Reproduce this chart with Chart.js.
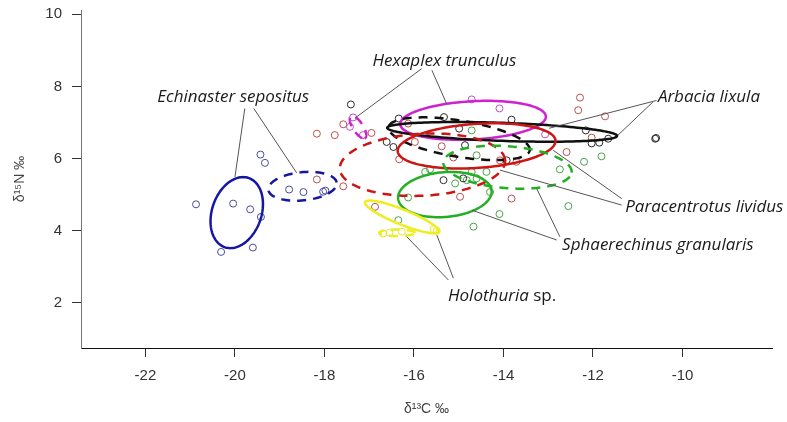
<!DOCTYPE html>
<html><head><meta charset="utf-8">
<script src="https://cdn.jsdelivr.net/npm/chart.js@4/dist/chart.umd.min.js"></script>
<style>html,body{margin:0;padding:0;background:#fff;} canvas{display:block}</style>
</head><body>
<canvas id="c" width="787" height="422" style="width:787px;height:422px"></canvas>
<script>
// ---------- DATA ----------
const species = ['Echinaster sepositus','Hexaplex trunculus','Arbacia lixula','Paracentrotus lividus','Sphaerechinus granularis','Holothuria sp.'];
const xTicks = [-22,-20,-18,-16,-14,-12,-10];
const yTicks = [2,4,6,8,10];

const echinasterC = [-20.87,-20.04,-19.66,-19.42,-20.31,-19.60,-19.43,-19.33,-18.79,-18.47,-18.03,-17.98];
const echinasterN = [4.73,4.75,4.59,4.38,3.41,3.53,6.11,5.88,5.14,5.07,5.08,5.11];

const hexaplexC = [-17.36,-17.43,-17.14,-14.71,-14.09,-13.07];
const hexaplexN = [7.14,6.88,6.65,7.64,7.39,6.67];

const arbaciaC = [-17.41,-16.34,-15.33,-14.99,-16.61,-16.46,-15.34,-14.90,-13.82,-14.86,-13.93,-12.16,-12.03,-11.86,-11.66,-10.61,-10.59];
const arbaciaN = [7.50,7.11,7.15,6.83,6.46,6.32,5.40,5.45,7.08,6.37,5.95,6.78,6.42,6.44,6.55,6.55,6.57];

const paracentrotusC = [-18.17,-17.77,-17.58,-16.95,-15.98,-16.33,-15.38,-15.12,-17.58,-14.97,-16.13,-16.87,-12.29,-12.33,-11.73,-12.59,-12.03,-13.82,-13.71,-18.17,-14.08];
const paracentrotusN = [6.69,6.65,6.95,6.71,6.46,5.98,6.34,6.03,5.23,4.94,6.97,4.66,7.69,7.34,7.17,6.18,6.58,4.89,5.91,5.42,5.95];

const sphaerechinusC = [-14.71,-14.60,-12.74,-12.20,-11.81,-12.55,-14.09,-14.67,-14.30,-15.75,-15.64,-16.13,-16.35,-15.08,-14.71,-14.60,-14.38,-14.82];
const sphaerechinusN = [6.78,6.09,5.70,5.91,6.06,4.68,4.46,4.11,5.07,5.63,5.70,4.92,4.29,5.31,5.63,5.45,5.63,5.40];

const holothuriaC = [-16.69,-16.55,-16.27,-15.49,-15.56];
const holothuriaN = [3.92,3.94,3.97,4.00,4.04];

// standard ellipses (species index, group 1 = solid / 2 = dashed, centre, semi-axes, angle in degrees)
const ellipseSpecies = [0,0,1,1,2,2,3,3,4,4,5,5];
const ellipseGroup   = [1,2,1,2,1,2,1,2,1,2,1,2];
const ellipseCX      = [-19.96,-18.49,-14.68,-17.25,-14.03,-14.99,-14.60,-15.81,-15.31,-13.91,-16.27,-16.38];
const ellipseCY      = [4.50,5.23,7.06,6.87,6.74,6.55,6.35,5.83,5.00,5.76,4.38,3.94];
const ellipseA       = [0.56,0.77,1.63,0.343,2.57,1.61,1.77,1.85,1.05,1.44,0.92,0.40];
const ellipseB       = [1.00,0.39,0.53,0.12,0.25,0.50,0.61,0.86,0.62,0.58,0.20,0.09];
const ellipseAngle   = [-12,8,4,-64,-2.5,-12,5,4,7,-6,-27,0];

// ---------- STYLE / LAYOUT ----------
const pointColors   = ['#4a4a9c','#c050c0','#2a2a2a','#b85050','#4aa04a','#e6e62a'];
const ellipseColors = ['#1616a0','#d020d0','#101010','#cc1515','#22b022','#eeee1e'];

const annotations = [
  {parts:[['Echinaster sepositus',true]], at:[-20.04,7.70], align:'center',
   leaders:[[[-19.78,7.39],[-20.00,5.49]],[[-19.58,7.39],[-18.62,5.60]]]},
  {parts:[['Hexaplex trunculus',true]], at:[-15.32,8.70], align:'center',
   leaders:[[[-15.83,8.49],[-17.32,7.12]],[[-15.60,8.45],[-15.27,7.52]]]},
  {parts:[['Arbacia lixula',true]], at:[-10.55,7.70], align:'left',
   leaders:[[[-10.58,7.61],[-12.98,6.84]],[[-10.66,7.57],[-11.44,6.65]]]},
  {parts:[['Paracentrotus lividus',true]], at:[-11.28,4.65], align:'left',
   leaders:[[[-11.36,4.89],[-12.89,6.23]],[[-11.36,4.71],[-14.08,5.68]]]},
  {parts:[['Sphaerechinus granularis',true]], at:[-12.69,3.60], align:'left',
   leaders:[[[-12.81,3.74],[-14.71,4.57]],[[-12.74,3.83],[-13.26,5.17]]]},
  {parts:[['Holothuria',true],[' sp.',false]], at:[-15.24,2.19], align:'left',
   leaders:[[[-15.23,2.63],[-16.16,3.83]],[[-15.12,2.68],[-15.49,3.88]]]}
];

const seriesC = [echinasterC,hexaplexC,arbaciaC,paracentrotusC,sphaerechinusC,holothuriaC];
const seriesN = [echinasterN,hexaplexN,arbaciaN,paracentrotusN,sphaerechinusN,holothuriaN];

const datasets = species.map((s,i)=>({
  label:s,
  data: seriesC[i].map((c,k)=>({x:c,y:seriesN[i][k]})),
  pointStyle:'circle', pointRadius:3.5, pointBorderWidth:1,
  borderColor:pointColors[i], backgroundColor:'rgba(0,0,0,0)',
  showLine:false
}));

const ellipsePlugin = {
  id:'ellipses',
  afterDatasetsDraw(chart){
    const {ctx, scales:{x,y}} = chart;
    ctx.save();
    for (let i=0;i<ellipseCX.length;i++){
      const phi = ellipseAngle[i]*Math.PI/180;
      ctx.beginPath();
      const n = 160;
      for (let k=0;k<=n;k++){
        const t = k/n*2*Math.PI;
        const dx = ellipseA[i]*Math.cos(t), dy = ellipseB[i]*Math.sin(t);
        const X = ellipseCX[i] + dx*Math.cos(phi) - dy*Math.sin(phi);
        const Y = ellipseCY[i] + dx*Math.sin(phi) + dy*Math.cos(phi);
        const px = x.getPixelForValue(X), py = y.getPixelForValue(Y);
        if (k===0) ctx.moveTo(px,py); else ctx.lineTo(px,py);
      }
      ctx.closePath();
      ctx.setLineDash(ellipseGroup[i]===2 ? [9,7] : []);
      ctx.strokeStyle = ellipseColors[ellipseSpecies[i]];
      ctx.lineWidth = 2.5;
      ctx.stroke();
    }
    ctx.restore();
  }
};

const labelPlugin = {
  id:'labels',
  afterDraw(chart){
    const {ctx, scales:{x,y}} = chart;
    ctx.save();
    ctx.strokeStyle = '#555'; ctx.lineWidth = 1; ctx.setLineDash([]);
    annotations.forEach(a=>{
      a.leaders.forEach(l=>{
        ctx.beginPath();
        ctx.moveTo(x.getPixelForValue(l[0][0]), y.getPixelForValue(l[0][1]));
        ctx.lineTo(x.getPixelForValue(l[1][0]), y.getPixelForValue(l[1][1]));
        ctx.stroke();
      });
    });
    ctx.fillStyle = '#1a1a1a';
    ctx.textBaseline = 'middle';
    annotations.forEach(a=>{
      const fonts = a.parts.map(p=> (p[1]?'italic ':'') + '17px "Open Sans"');
      let total = 0;
      const widths = a.parts.map((p,i)=>{ctx.font=fonts[i]; const w=ctx.measureText(p[0]).width; total+=w; return w;});
      let px = x.getPixelForValue(a.at[0]);
      const py = y.getPixelForValue(a.at[1]);
      if (a.align==='center') px -= total/2;
      ctx.textAlign = 'left';
      a.parts.forEach((p,i)=>{ctx.font=fonts[i]; ctx.fillText(p[0],px,py); px+=widths[i];});
    });
    ctx.restore();
  }
};

new Chart(document.getElementById('c'), {
  type:'scatter',
  data:{datasets},
  plugins:[ellipsePlugin,labelPlugin],
  options:{
    responsive:false, animation:false, devicePixelRatio:1,
    layout:{padding:{top:10,right:15,left:0,bottom:0}, autoPadding:false},
    plugins:{legend:{display:false}, tooltip:{enabled:false}},
    scales:{
      x:{type:'linear', min:-23.44, max:-8.0,
        afterBuildTicks:s=>{s.ticks = xTicks.map(v=>({value:v}));},
        afterFit:s=>{s.height=74; s.paddingLeft=0; s.paddingRight=0;},
        grid:{drawOnChartArea:false, drawTicks:true, tickLength:9, color:'#333'},
        border:{display:true, color:'#111', width:1},
        ticks:{font:{family:'Liberation Sans', size:15}, color:'#333', padding:10, maxRotation:0},
        title:{display:true, text:'δ¹³C ‰', font:{family:'Liberation Sans', size:14}, color:'#444', padding:{top:0,bottom:4}}
      },
      y:{type:'linear', min:0.745, max:10.12,
        afterBuildTicks:s=>{s.ticks = yTicks.map(v=>({value:v}));},
        afterFit:s=>{s.width=81; s.paddingTop=0; s.paddingBottom=0;},
        grid:{drawOnChartArea:false, drawTicks:true, tickLength:9, color:'#333'},
        border:{display:true, color:'#777', width:1},
        ticks:{font:{family:'Liberation Sans', size:15}, color:'#333', padding:10},
        title:{display:true, text:'δ¹⁵N ‰', font:{family:'Liberation Sans', size:14}, color:'#444', padding:{top:12,bottom:0}}
      }
    }
  }
});
</script>
</body></html>
